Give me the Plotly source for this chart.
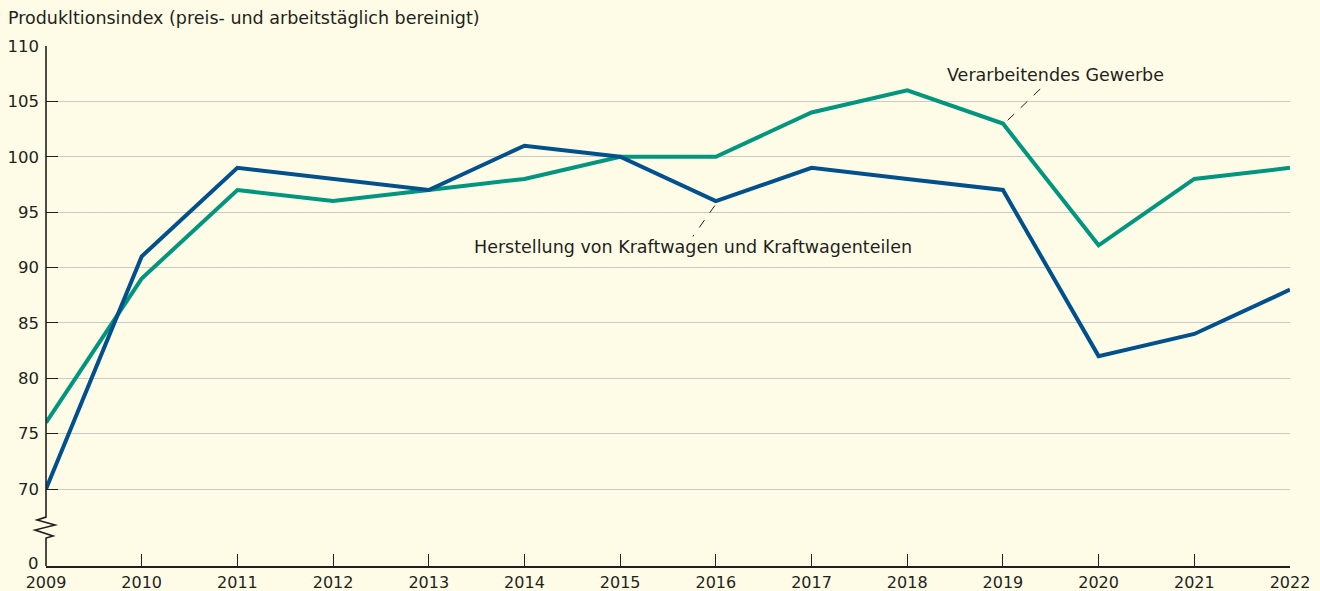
import plotly.graph_objects as go

years = list(range(2009, 2023))
verarbeitendes = [76, 89, 97, 96, 97, 98, 100, 100, 104, 106, 103, 92, 98, 99]
kraftwagen = [70, 91, 99, 98, 97, 101, 100, 96, 99, 98, 97, 82, 84, 88]
ytick_vals = [70, 75, 80, 85, 90, 95, 100, 105, 110]
ytick_text = ["70", "75", "80", "85", "90", "95", "100", "105", "110"]

Y_ZERO = 63.05  # position of the "0" on the broken axis
BG = "#FEFCE6"
TXT = "#231F20"
GREEN = "#00957F"
BLUE = "#00508C"
FONT = "DejaVu Sans"
FS = 17.5
TFS = 16.5

fig = go.Figure()
fig.add_trace(go.Scatter(x=years, y=verarbeitendes, mode="lines",
                         line=dict(color=GREEN, width=4), cliponaxis=False,
                         name="Verarbeitendes Gewerbe", showlegend=False))
fig.add_trace(go.Scatter(x=years, y=kraftwagen, mode="lines",
                         line=dict(color=BLUE, width=4), cliponaxis=False,
                         name="Herstellung von Kraftwagen und Kraftwagenteilen", showlegend=False))

# broken y axis line with zigzag
fig.add_shape(type="path", xref="paper", xsizemode="pixel", xanchor=0, yref="y",
              path=("M0,110 L0,67.47 L-9,67.2 L9,66.75 L-11,66.3 L7,65.76 L0,65.58 "
                    f"L0,{Y_ZERO}"),
              line=dict(color=TXT, width=1.6), layer="above")

# leader lines
fig.add_shape(type="line", x0=2019.05, y0=103.3, x1=2019.4, y1=106.2,
              line=dict(color=TXT, width=1, dash="dash"))
fig.add_shape(type="line", x0=2015.99, y0=95.6, x1=2015.76, y1=92.8,
              line=dict(color=TXT, width=1, dash="dash"))

fig.add_annotation(x=2018.39, y=107.4, text="Verarbeitendes Gewerbe", showarrow=False,
                   xanchor="left", yanchor="middle", font=dict(size=FS, color=TXT, family=FONT))
fig.add_annotation(x=2013.45, y=91.85, text="Herstellung von Kraftwagen und Kraftwagenteilen",
                   showarrow=False, xanchor="left", yanchor="middle",
                   font=dict(size=FS, color=TXT, family=FONT))
fig.add_annotation(xref="paper", yref="paper", x=-46/1244, y=1.0, yshift=28,
                   text="Produkltionsindex (preis- und arbeitstäglich bereinigt)",
                   showarrow=False, xanchor="left", yanchor="middle",
                   font=dict(size=FS, color=TXT, family=FONT), xshift=6)
# "0" label at the foot of the broken axis
fig.add_annotation(xref="paper", yref="y", x=0, y=Y_ZERO, text="0", showarrow=False,
                   xanchor="right", yanchor="middle", xshift=-5, yshift=3,
                   font=dict(size=TFS, color=TXT, family=FONT))

fig.update_layout(
    width=1320, height=591,
    margin=dict(l=46, r=30, t=46, b=25, autoexpand=False),
    paper_bgcolor=BG, plot_bgcolor=BG,
    font=dict(family=FONT, size=FS, color=TXT),
    xaxis=dict(range=[2009, 2022], tickvals=years, ticktext=[str(y) for y in years],
               automargin=False,
               showgrid=False, zeroline=False, showline=True, linecolor=TXT, linewidth=1.6,
               ticks="inside", ticklen=12, tickcolor=TXT, tickwidth=1.3,
               ticklabelstandoff=1,
               tickfont=dict(size=16, color=TXT, family=FONT)),
    yaxis=dict(range=[Y_ZERO, 110], tickvals=ytick_vals, ticktext=ytick_text,
               automargin=False,
               showgrid=True, gridcolor="#C9C9C6", gridwidth=1, zeroline=False,
               showline=False, ticks="inside", ticklen=12, tickcolor=TXT, tickwidth=1.3,
               ticklabelstandoff=6,
               tickfont=dict(size=TFS, color=TXT, family=FONT)),
)

fig.write_html("out.html", config={"displayModeBar": False},
               post_script="document.body.style.margin='0';document.body.style.background='" + BG + "';")
